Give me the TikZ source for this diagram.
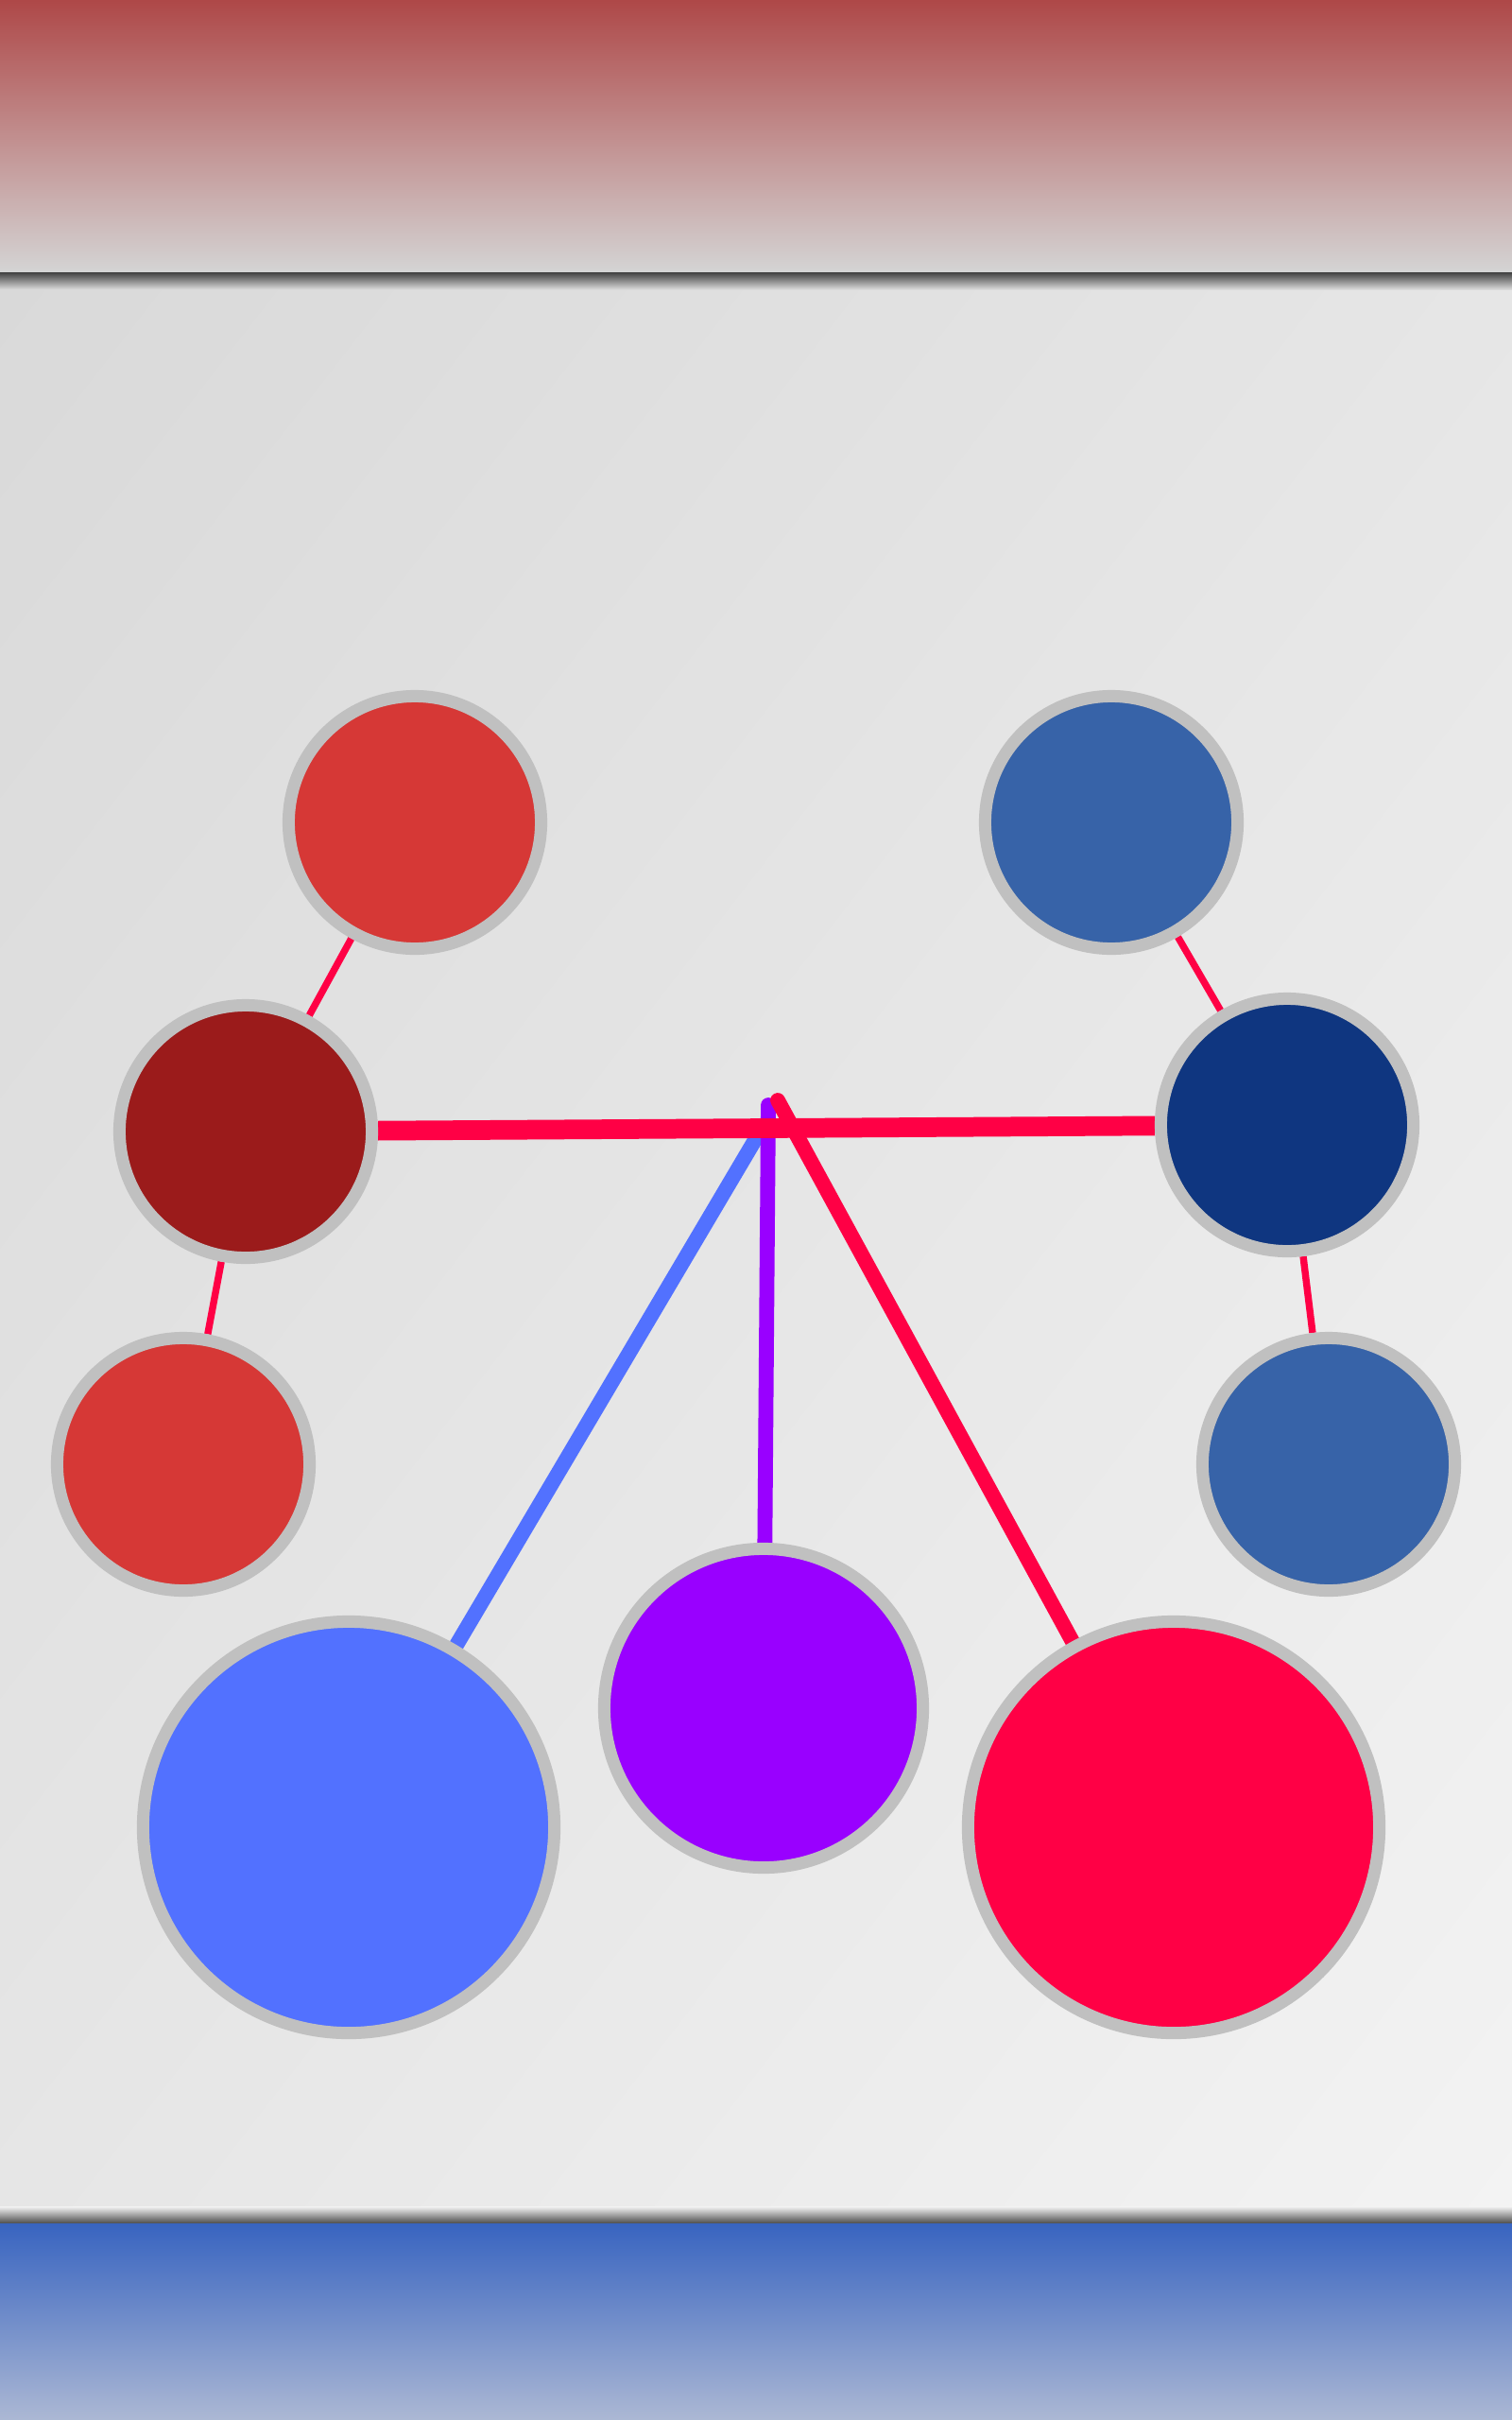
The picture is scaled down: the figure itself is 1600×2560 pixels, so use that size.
\documentclass[tikz,border=0pt]{standalone}
\usetikzlibrary{backgrounds,shadings}
\definecolor{ringgray}{HTML}{C0C0C0}
\definecolor{brick}{HTML}{D63836}
\definecolor{maroon}{HTML}{9B1B1B}
\definecolor{steel}{HTML}{3763A8}
\definecolor{navy}{HTML}{0F3680}
\definecolor{cornflower}{HTML}{5271FF}
\definecolor{violetx}{HTML}{9900FF}
\definecolor{hotred}{HTML}{FF0045}
\definecolor{bandred}{HTML}{AE4848}
\definecolor{bandgray}{HTML}{D4D4D4}
\definecolor{bandblue}{HTML}{3864C0}
\definecolor{bandpale}{HTML}{ACB8D4}
\definecolor{bgA}{HTML}{D9D9D9}
\definecolor{bgB}{HTML}{E6E6E6}
\definecolor{bgC}{HTML}{F3F3F3}
\begin{document}
\begin{tikzpicture}[x=0.01cm,y=-0.01cm,
  ball/.style={circle,draw=ringgray,line width=3.7pt,inner sep=0pt,minimum size=2.67cm},
  bigball/.style={ball,minimum size=4.35cm},
  twig/.style={hotred,line width=2.1pt},
  spoke/.style={line width=4.5pt,line cap=round}]
  \useasboundingbox (0,0) rectangle (1600,2560);
  % circles
  \node[ball,fill=brick] (redtop) at (439,870) {};
  \node[ball,fill=maroon] (redmid) at (260,1197) {};
  \node[ball,fill=brick] (redlow) at (194,1549) {};
  \node[ball,fill=steel] (bluetop) at (1176,870) {};
  \node[ball,fill=navy] (bluemid) at (1362,1190) {};
  \node[ball,fill=steel] (bluelow) at (1406,1549) {};
  \node[bigball,fill=cornflower] (bigblue) at (369,1933) {};
  \node[ball,minimum size=3.37cm,fill=violetx] (purple) at (808,1807) {};
  \node[bigball,fill=hotred] (bigred) at (1242,1933) {};
  \coordinate (hubblue) at (806,1194);
  \coordinate (hubviolet) at (813,1169);
  \coordinate (hubred) at (823,1164);
  \begin{scope}[on background layer]
    % backdrop and bands
    \shade[upper left=bgA,upper right=bgB,lower left=bgB,lower right=bgC] (0,288) rectangle (1600,2352);
    \shade[top color=bandred,bottom color=bandgray] (0,0) rectangle (1600,288);
    \shade[top color=black!75,bottom color=bgA] (0,288) rectangle (1600,306);
    \shade[top color=bgC,bottom color=black!70] (0,2334) rectangle (1600,2352);
    \shade[top color=bandblue,bottom color=bandpale] (0,2352) rectangle (1600,2560);
    % links
    \draw[twig] (redtop) -- (redmid);
    \draw[twig] (redmid) -- (redlow);
    \draw[twig] (bluetop) -- (bluemid);
    \draw[twig] (bluemid) -- (bluelow);
    \draw[spoke,cornflower] (hubblue) -- (bigblue);
    \draw[spoke,violetx] (hubviolet) -- (purple);
    \draw[spoke,hotred] (hubred) -- (bigred);
    \draw[hotred,line width=5.9pt] (redmid) -- (bluemid);
  \end{scope}
\end{tikzpicture}
\end{document}
